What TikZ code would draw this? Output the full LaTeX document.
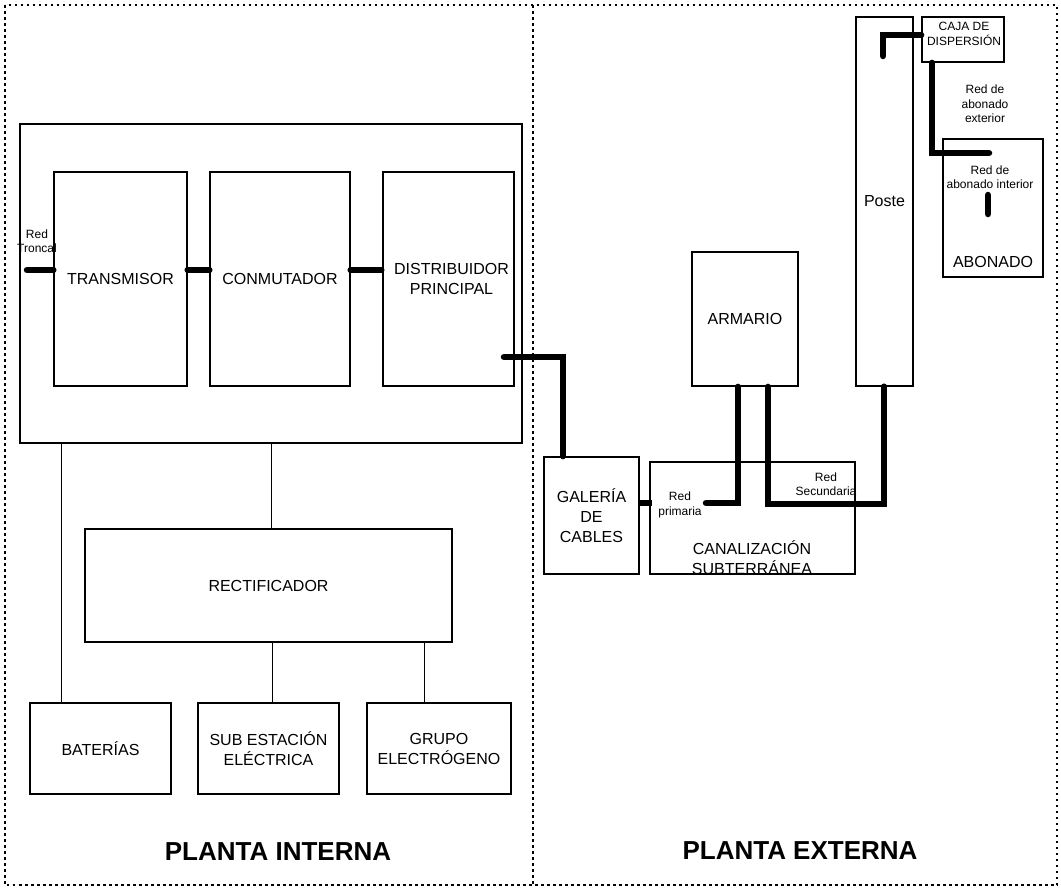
\documentclass[tikz,border=0pt]{standalone}
\usepackage{fontspec}
\setmainfont{Liberation Sans}
\tikzset{
  box/.style={draw, line width=1.8pt, rectangle, inner sep=0pt, align=center,
    font=\fontsize{16}{20}\selectfont},
  inbox/.style={box, line width=1.4pt},
  bigbox/.style={draw, line width=2.6pt, rectangle, inner sep=0pt},
  cable/.style={line width=6.5pt, line cap=round},
  wire/.style={line width=1pt},
  lbl/.style={align=center, inner sep=0pt, font=\fontsize{12}{14.5}\selectfont},
  biglbl/.style={align=center, inner sep=0pt, font=\fontsize{16}{20}\selectfont},
  frameline/.style={line width=2pt, dash pattern=on 2.5pt off 3.5pt},
  titlelbl/.style={inner sep=0pt, font=\fontsize{26}{30}\selectfont\bfseries},
}
\begin{document}
\begin{tikzpicture}[x=1pt,y=-1pt]
\useasboundingbox (0,0) rectangle (1061,889);
% frame
\draw[frameline] (5,5) rectangle (1057,885);
\draw[frameline] (533,5) -- (533,885);

% planta interna
\node[bigbox, minimum width=502pt, minimum height=319pt] (big) at (271,283.5) {};
\node[inbox, minimum width=133pt, minimum height=214pt] (tx) at (120.5,279) {TRANSMISOR};
\node[inbox, minimum width=140pt, minimum height=214pt] (cm) at (280,279) {CONMUTADOR};
\node[inbox, minimum width=131pt, minimum height=214pt] (dp) at (448.5,279) {\hspace*{6pt}DISTRIBUIDOR\\\hspace*{6pt}PRINCIPAL};
\node[box, minimum width=367pt, minimum height=113pt] (rect) at (268.5,585.5) {RECTIFICADOR};
\node[box, minimum width=141pt, minimum height=91pt] (bat) at (100.5,748.5) {BATERÍAS};
\node[box, minimum width=141pt, minimum height=91pt] (sub) at (268.5,748.5) {SUB ESTACIÓN\\ELÉCTRICA};
\node[box, minimum width=144pt, minimum height=91pt] (gru) at (439,748.5) {GRUPO\\ELECTRÓGENO};

% planta externa
\node[box, minimum width=95pt, minimum height=117pt] (gal) at (591.5,515.5) {GALERÍA\\DE\\CABLES};
\node[box, minimum width=205pt, minimum height=112pt] (can) at (752.5,518) {};
\node[biglbl] (canl) at (752,558) {CANALIZACIÓN\\SUBTERRÁNEA};
\node[box, minimum width=106pt, minimum height=134pt] (arm) at (745,319) {ARMARIO};
\node[inbox, minimum width=57pt, minimum height=369pt] (pos) at (884.5,201.5) {Poste};
\node[box, minimum width=82pt, minimum height=45pt] (caja) at (963,39.5) {};
\node[lbl] (cajal) at (964,34) {CAJA DE\\DISPERSIÓN};
\node[box, minimum width=100pt, minimum height=138pt] (abo) at (993,208) {};
\node[biglbl] (abol) at (993,262) {ABONADO};

% thin wires
\coordinate (w1) at (61,0);
\coordinate (w2) at (271,0);
\coordinate (w3) at (272,0);
\coordinate (w4) at (424,0);
\draw[wire] (big.south -| w1) -- (bat.north -| w1);
\draw[wire] (big.south -| w2) -- (rect.north -| w2);
\draw[wire] (rect.south -| w3) -- (sub.north -| w3);
\draw[wire] (rect.south -| w4) -- (gru.north -| w4);

% cables
\coordinate (rt) at (27,270);
\draw[cable] (rt) -- (tx.west |- rt);
\draw[cable] (tx.east |- rt) -- (cm.west |- rt);
\draw[cable] (cm.east |- rt) -- ([xshift=-1pt]dp.west |- rt);
\coordinate (c1) at (504,357);
\coordinate (c2) at (563,357);
\draw[cable] (c1) -- (c2) -- (c2 |- gal.north);
\coordinate (c3) at (0,503);
\draw[cable, line cap=butt] (gal.east |- c3) -- ([xshift=3pt]can.west |- c3);
\coordinate (p1) at (738,503);
\coordinate (p2) at (706,503);
\draw[cable] (arm.south -| p1) -- (p1) -- (p2);
\coordinate (s1) at (768,504);
\coordinate (s2) at (884,504);
\draw[cable] (arm.south -| s1) -- (s1) -- (s2) -- (pos.south -| s2);
\coordinate (q1) at (883,56);
\coordinate (q2) at (883,35);
\draw[cable] (q1) -- (q2) -- (caja.west |- q2);
\coordinate (r1) at (932,153);
\coordinate (r2) at (989,153);
\draw[cable] (caja.south -| r1) -- (r1) -- (r2);
\coordinate (u1) at (988,195);
\coordinate (u2) at (988,214);
\draw[cable] (u1) -- (u2);

% small labels
\node[lbl] (lt) at (37,241) {Red\\Troncal};
\node[lbl] (lp) at (680,505) {Red\\primaria};
\node[lbl] (ls) at (826,484) {Red\\Secundaria};
\node[lbl] (le) at (985,104) {Red de\\abonado\\exterior};
\node[lbl] (li) at (990,177) {Red de\\abonado interior};

% titles
\node[titlelbl] (ti) at (278,852) {PLANTA INTERNA};
\node[titlelbl] (te) at (800,851) {PLANTA EXTERNA};
\end{tikzpicture}
\end{document}
